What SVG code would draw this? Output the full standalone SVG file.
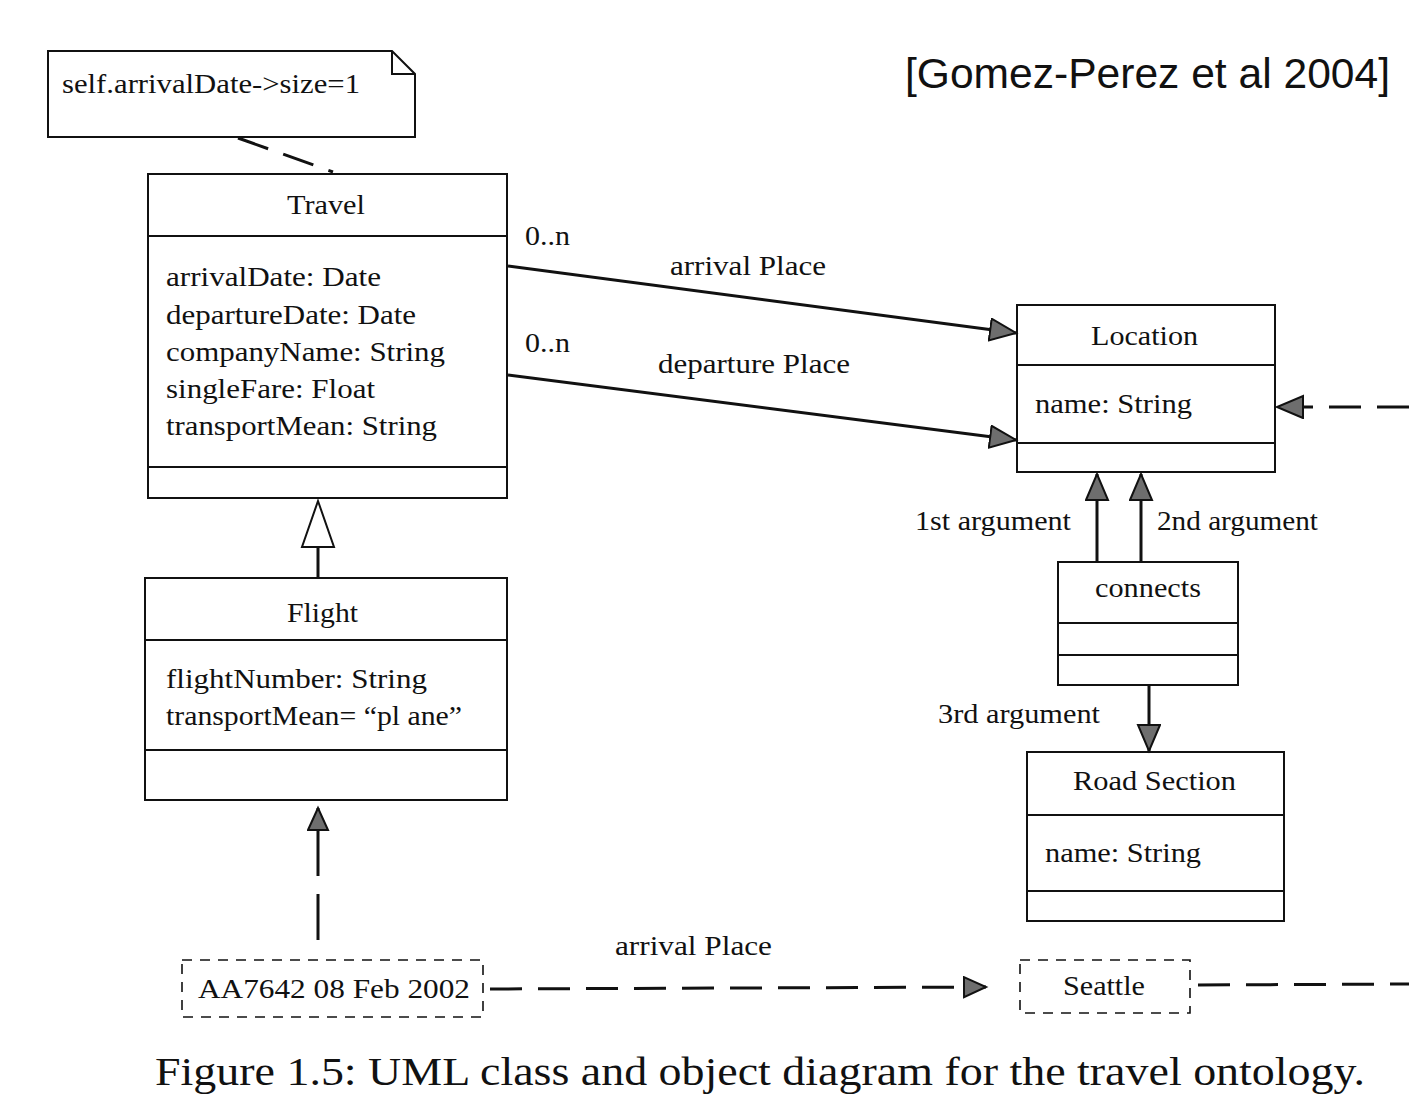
<svg xmlns="http://www.w3.org/2000/svg" width="1409" height="1112" viewBox="0 0 1409 1112">
<style>
.box{fill:#fff;stroke:#111;stroke-width:2}
.div{stroke:#111;stroke-width:2}
.t{font-family:"Liberation Serif","Times New Roman",serif;font-size:27px;fill:#111}
.c{text-anchor:middle}
.ln{stroke:#111;stroke-width:3;fill:none}
.dash{stroke:#111;stroke-width:3;fill:none;stroke-dasharray:32 16}
.obj{fill:#fff;stroke:#111;stroke-width:1.6;stroke-dasharray:10 8}
</style>
<defs>
<marker id="tri" markerUnits="userSpaceOnUse" markerWidth="32" markerHeight="28" refX="27" refY="12" orient="auto">
<path d="M1,1 L27,12 L1,23 Z" fill="#6e6e6e" stroke="#111" stroke-width="2"/>
</marker>
<marker id="trismall" markerUnits="userSpaceOnUse" markerWidth="28" markerHeight="26" refX="23" refY="11" orient="auto">
<path d="M1,1 L23,11 L1,21 Z" fill="#6e6e6e" stroke="#111" stroke-width="2"/>
</marker>
</defs>
<rect width="1409" height="1112" fill="#fff"/>

<g id="source">
<text x="905" y="88" style="font-family:'Liberation Sans',Arial,sans-serif;font-size:42px;fill:#111" textLength="485" lengthAdjust="spacingAndGlyphs">[Gomez-Perez et al 2004]</text>
</g>

<g id="note">
<path d="M48,51 L392,51 L415,74 L415,137 L48,137 Z" class="box"/>
<path d="M392,51 L392,74 L415,74" fill="none" stroke="#111" stroke-width="2"/>
<text x="62" y="93" class="t" textLength="298" lengthAdjust="spacingAndGlyphs">self.arrivalDate-&gt;size=1</text>
</g>

<g id="travel">
<rect x="148" y="174" width="359" height="324" class="box"/>
<line x1="148" y1="236" x2="507" y2="236" class="div"/>
<line x1="148" y1="467" x2="507" y2="467" class="div"/>
<text x="287" y="214" class="t" textLength="78" lengthAdjust="spacingAndGlyphs">Travel</text>
<text x="166" y="286" class="t" textLength="215" lengthAdjust="spacingAndGlyphs">arrivalDate: Date</text>
<text x="166" y="324" class="t" textLength="250" lengthAdjust="spacingAndGlyphs">departureDate: Date</text>
<text x="166" y="361" class="t" textLength="279" lengthAdjust="spacingAndGlyphs">companyName: String</text>
<text x="166" y="398" class="t" textLength="209" lengthAdjust="spacingAndGlyphs">singleFare: Float</text>
<text x="166" y="435" class="t" textLength="271" lengthAdjust="spacingAndGlyphs">transportMean: String</text>
</g>

<g id="flight">
<rect x="145" y="578" width="362" height="222" class="box"/>
<line x1="145" y1="640" x2="507" y2="640" class="div"/>
<line x1="145" y1="750" x2="507" y2="750" class="div"/>
<text x="287" y="622" class="t" textLength="71" lengthAdjust="spacingAndGlyphs">Flight</text>
<text x="166" y="688" class="t" textLength="261" lengthAdjust="spacingAndGlyphs">flightNumber: String</text>
<text x="166" y="725" class="t" textLength="296" lengthAdjust="spacingAndGlyphs">transportMean= “pl ane”</text>
</g>

<g id="location">
<rect x="1017" y="305" width="258" height="167" class="box"/>
<line x1="1017" y1="365" x2="1275" y2="365" class="div"/>
<line x1="1017" y1="443" x2="1275" y2="443" class="div"/>
<text x="1091" y="345" class="t" textLength="107" lengthAdjust="spacingAndGlyphs">Location</text>
<text x="1035" y="413" class="t" textLength="157" lengthAdjust="spacingAndGlyphs">name: String</text>
</g>

<g id="connects">
<rect x="1058" y="562" width="180" height="123" class="box"/>
<line x1="1058" y1="623" x2="1238" y2="623" class="div"/>
<line x1="1058" y1="655" x2="1238" y2="655" class="div"/>
<text x="1095" y="597" class="t" textLength="106" lengthAdjust="spacingAndGlyphs">connects</text>
</g>

<g id="roadsection">
<rect x="1027" y="752" width="257" height="169" class="box"/>
<line x1="1027" y1="815" x2="1284" y2="815" class="div"/>
<line x1="1027" y1="891" x2="1284" y2="891" class="div"/>
<text x="1073" y="790" class="t" textLength="163" lengthAdjust="spacingAndGlyphs">Road Section</text>
<text x="1045" y="862" class="t" textLength="156" lengthAdjust="spacingAndGlyphs">name: String</text>
</g>

<g id="aa7642">
<rect x="182" y="960" width="301" height="57" class="obj"/>
<text x="198" y="998" class="t" textLength="272" lengthAdjust="spacingAndGlyphs">AA7642 08 Feb 2002</text>
</g>

<g id="seattle">
<rect x="1020" y="960" width="170" height="53" class="obj"/>
<text x="1063" y="995" class="t" textLength="82" lengthAdjust="spacingAndGlyphs">Seattle</text>
</g>

<g id="connectors">
<line x1="238" y1="138" x2="333" y2="172" class="ln" stroke-dasharray="32 16"/>
<line x1="318" y1="578" x2="318" y2="547" class="ln"/>
<path d="M318,501 L334,547 L302,547 Z" fill="#fff" stroke="#111" stroke-width="2"/>
<line x1="508" y1="266" x2="1016" y2="333" class="ln" marker-end="url(#tri)"/>
<line x1="508" y1="375" x2="1016" y2="440" class="ln" marker-end="url(#tri)"/>
<text x="525" y="245" class="t" textLength="45" lengthAdjust="spacingAndGlyphs">0..n</text>
<text x="670" y="275" class="t" textLength="156" lengthAdjust="spacingAndGlyphs">arrival Place</text>
<text x="525" y="352" class="t" textLength="45" lengthAdjust="spacingAndGlyphs">0..n</text>
<text x="658" y="373" class="t" textLength="192" lengthAdjust="spacingAndGlyphs">departure Place</text>
<line x1="1409" y1="407" x2="1277" y2="407" class="dash" marker-end="url(#tri)"/>
<line x1="1097" y1="562" x2="1097" y2="474" class="ln" marker-end="url(#tri)"/>
<line x1="1141" y1="562" x2="1141" y2="474" class="ln" marker-end="url(#tri)"/>
<text x="915" y="530" class="t" textLength="156" lengthAdjust="spacingAndGlyphs">1st argument</text>
<text x="1157" y="530" class="t" textLength="161" lengthAdjust="spacingAndGlyphs">2nd argument</text>
<line x1="1149" y1="685" x2="1149" y2="751" class="ln" marker-end="url(#tri)"/>
<text x="938" y="723" class="t" textLength="162" lengthAdjust="spacingAndGlyphs">3rd argument</text>
<line x1="318" y1="940" x2="318" y2="808" class="ln" stroke-dasharray="46 18" marker-end="url(#trismall)"/>
<line x1="490" y1="989" x2="986" y2="987" class="dash" marker-end="url(#trismall)"/>
<text x="615" y="955" class="t" textLength="157" lengthAdjust="spacingAndGlyphs">arrival Place</text>
<line x1="1198" y1="985" x2="1409" y2="984" class="dash"/>
</g>

<g id="caption">
<text x="155" y="1085" style="font-family:'Liberation Serif','Times New Roman',serif;font-size:40px;fill:#111" textLength="1210" lengthAdjust="spacingAndGlyphs">Figure 1.5: UML class and object diagram for the travel ontology.</text>
</g>
</svg>
